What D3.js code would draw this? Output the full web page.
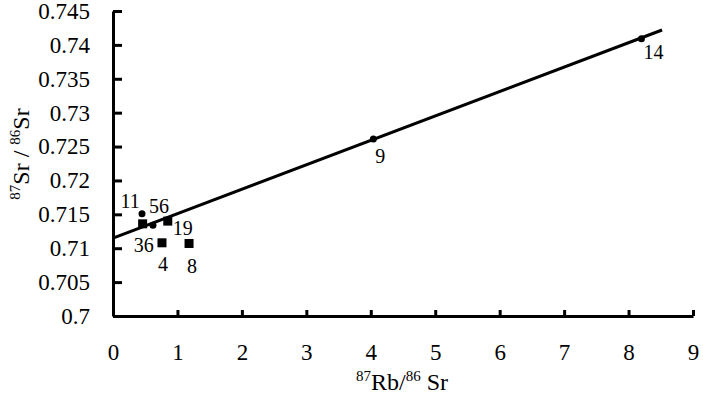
<!DOCTYPE html>
<html>
<head>
<meta charset="utf-8">
<script src="https://cdn.jsdelivr.net/npm/d3@7"></script>
<style>
body { margin: 0; background: #fff; }
text { font-family: "Liberation Serif", "Times New Roman", serif; fill: #000; }
</style>
</head>
<body>
<svg id="chart" width="703" height="395"></svg>
<script>
// sample data
var sampleIds = ["14", "9", "11", "36", "56", "19", "4", "8"]
var rbSr = [8.2, 4.04, 0.45, 0.46, 0.62, 0.85, 0.76, 1.18]
var srSr = [0.7409, 0.7261, 0.7151, 0.7136, 0.7134, 0.7140, 0.7108, 0.7107]
var shapes = ["dot", "dot", "dot", "square", "dot", "square", "square", "square"]
// isochron line end points
var lineX = [0, 8.52]
var lineY = [0.7115, 0.7422]
var xTicks = [0, 1, 2, 3, 4, 5, 6, 7, 8, 9]
var yTicks = [0.7, 0.705, 0.71, 0.715, 0.72, 0.725, 0.73, 0.735, 0.74, 0.745]

// label offsets from point (px)
var labelDx = [12, 7, -12, 1, 6, 15, 1, 3]
var labelDy = [20, 24, -6, 28, -12, 14, 28, 30]

var svg = d3.select("#chart")
var mLeft = 113, mRight = 693, mTop = 11, mBottom = 316

var x = d3.scaleLinear().domain([0, 9]).range([mLeft, mRight])
var y = d3.scaleLinear().domain([0.7, 0.745]).range([mBottom, mTop])

// axes
var xAxis = svg.append("g")
	.attr("transform", "translate(0," + mBottom + ")")
	.call(d3.axisBottom(x).tickValues(xTicks).tickSizeInner(-6).tickSizeOuter(0).tickPadding(32).tickFormat(d3.format("d")))
var yAxis = svg.append("g")
	.attr("transform", "translate(" + mLeft + ",0)")
	.call(d3.axisLeft(y).tickValues(yTicks).tickSizeInner(-9).tickSizeOuter(0).tickPadding(23).tickFormat(function(d) { return +d.toFixed(3) + ""; }))

svg.selectAll(".domain").attr("stroke", "#000").attr("stroke-width", 3)
svg.selectAll(".tick line").attr("stroke", "#000").attr("stroke-width", 3)
svg.selectAll(".tick text").attr("font-size", "23px").attr("fill", "#000")
	.attr("font-family", "'Liberation Serif', 'Times New Roman', serif")
xAxis.selectAll(".tick text").attr("dy", "0.5em")

// axis titles
var xt = svg.append("text").attr("x", 402).attr("y", 390).attr("text-anchor", "middle").attr("font-size", "24px")
xt.append("tspan").attr("font-size", "15px").attr("dy", "-9").text("87")
xt.append("tspan").attr("dy", "9").text("Rb/")
xt.append("tspan").attr("font-size", "15px").attr("dy", "-9").text("86")
xt.append("tspan").attr("dy", "9").text(" Sr")

var yt = svg.append("text").attr("transform", "translate(29,154) rotate(-90)").attr("text-anchor", "middle").attr("font-size", "24px")
yt.append("tspan").attr("font-size", "15px").attr("dy", "-9").text("87")
yt.append("tspan").attr("dy", "9").text("Sr / ")
yt.append("tspan").attr("font-size", "15px").attr("dy", "-9").text("86")
yt.append("tspan").attr("dy", "9").text("Sr")

// regression line
svg.append("line")
	.attr("x1", x(lineX[0])).attr("y1", y(lineY[0]))
	.attr("x2", x(lineX[1])).attr("y2", y(lineY[1]))
	.attr("stroke", "#000").attr("stroke-width", 3)

// points
var pts = svg.selectAll(".pt").data(sampleIds).enter().append("g").attr("class", "pt")
	.attr("transform", function(d, i) { return "translate(" + x(rbSr[i]) + "," + y(srSr[i]) + ")"; })

pts.filter(function(d, i) { return shapes[i] == "dot"; })
	.append("circle").attr("r", 3.5).attr("fill", "#000")
pts.filter(function(d, i) { return shapes[i] == "square"; })
	.append("rect").attr("x", -4.5).attr("y", -4.5).attr("width", 9).attr("height", 9).attr("fill", "#000")

pts.append("text")
	.attr("x", function(d, i) { return labelDx[i]; })
	.attr("y", function(d, i) { return labelDy[i]; })
	.attr("text-anchor", "middle")
	.attr("font-size", "20px")
	.text(function(d) { return d; })
</script>
</body>
</html>
